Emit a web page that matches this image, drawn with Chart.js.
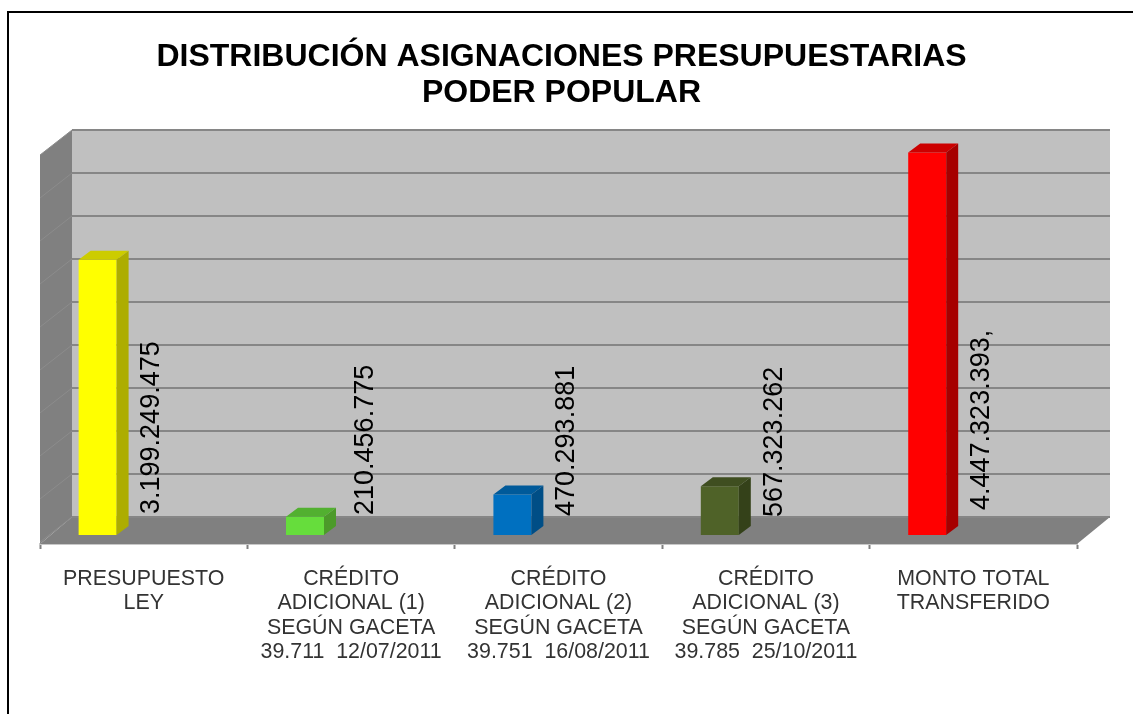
<!DOCTYPE html>
<html>
<head>
<meta charset="utf-8">
<script src="https://cdn.jsdelivr.net/npm/chart.js@4"></script>
<style>
html, body { margin: 0; padding: 0; background: #fff; overflow: hidden; }
#frame { position: absolute; left: 7px; top: 11px; right: 0; bottom: 0; border-left: 2px solid #000; border-top: 2px solid #000; }
#c { position: absolute; left: 0; top: 0; }
</style>
</head>
<body>
<div id="frame"></div>
<canvas id="c" width="1133" height="714"></canvas>
<script>
var titleLines = ['DISTRIBUCIÓN ASIGNACIONES PRESUPUESTARIAS', 'PODER POPULAR'];
var categories = [
	['PRESUPUESTO', 'LEY'],
	['CRÉDITO', 'ADICIONAL (1)', 'SEGÚN GACETA', '39.711  12/07/2011'],
	['CRÉDITO', 'ADICIONAL (2)', 'SEGÚN GACETA', '39.751  16/08/2011'],
	['CRÉDITO', 'ADICIONAL (3)', 'SEGÚN GACETA', '39.785  25/10/2011'],
	['MONTO TOTAL', 'TRANSFERIDO']
];
var values = [3199249475, 210456775, 470293881, 567323262, 4447323393];
var valueLabels = ['3.199.249.475', '210.456.775', '470.293.881', '567.323.262', '4.447.323.393,'];
var gridValues = [0, 500000000, 1000000000, 1500000000, 2000000000, 2500000000, 3000000000, 3500000000, 4000000000, 4500000000];

var frontColors = ['#ffff00', '#66dd3c', '#0070c0', '#4f6228', '#ff0000'];
var topColors = ['#cccc00', '#52b030', '#005a9a', '#3f4e20', '#cc0000'];
var sideColors = ['#adad00', '#4c9a2a', '#004e86', '#344119', '#a60000'];

// depth of the fake 3d box
var WALL_DX = 32, WALL_DY = 18, WALL_SLOPE = 25;
var BAR_DX = 12, BAR_DY = 9;
// the value labels do not sit quite evenly in the original
var labelNudgeX = [0, 7, 0, 1, 0];
var labelNudgeY = [-1, 0, 1, 2, -5];

function poly(ctx, pts, fill){
	ctx.beginPath();
	ctx.moveTo(pts[0][0], pts[0][1]);
	for(var i = 1; i < pts.length; i++) ctx.lineTo(pts[i][0], pts[i][1]);
	ctx.closePath();
	ctx.fillStyle = fill;
	ctx.fill();
}

var box3d = {
	id: 'box3d',
	beforeDatasetsDraw: function(chart){
		var ctx = chart.ctx, a = chart.chartArea, y = chart.scales.y;
		var backL = a.left + WALL_DX, backR = a.right + 33;
		var backTop = y.getPixelForValue(gridValues[gridValues.length - 1]) - WALL_DY;
		var backBottom = y.getPixelForValue(0) - WALL_DY;
		ctx.save();
		poly(ctx, [[backL, backTop], [backR, backTop], [backR, backBottom], [backL, backBottom]], '#c0c0c0');
		poly(ctx, [[a.left, backTop + WALL_SLOPE], [backL, backTop], [backL, backBottom], [a.left, a.bottom]], '#808080');
		poly(ctx, [[backL, backBottom], [backR, backBottom], [a.right, a.bottom], [a.left, a.bottom]], '#808080');
		for(var i = 0; i < gridValues.length; i++){
			var py = y.getPixelForValue(gridValues[i]) - WALL_DY;
			ctx.strokeStyle = '#868686';
			ctx.lineWidth = 2;
			ctx.beginPath();
			ctx.moveTo(backL, py);
			ctx.lineTo(backR, py);
			ctx.stroke();
			ctx.strokeStyle = '#8c8c8c';
			ctx.lineWidth = 1;
			ctx.beginPath();
			ctx.moveTo(a.left, py + WALL_SLOPE);
			ctx.lineTo(backL, py);
			ctx.stroke();
		}
		ctx.restore();
	},
	afterDatasetsDraw: function(chart){
		var ctx = chart.ctx;
		var bars = chart.getDatasetMeta(0).data;
		ctx.save();
		for(var i = 0; i < bars.length; i++){
			var b = bars[i];
			var l = b.x - b.width / 2, r = b.x + b.width / 2;
			poly(ctx, [[l, b.y], [l + BAR_DX, b.y - BAR_DY], [r + BAR_DX, b.y - BAR_DY], [r, b.y]], topColors[i]);
			poly(ctx, [[r, b.y], [r + BAR_DX, b.y - BAR_DY], [r + BAR_DX, b.base - BAR_DY], [r, b.base]], sideColors[i]);
			ctx.save();
			ctx.translate(b.x + 54 + labelNudgeX[i], b.base - 20 + labelNudgeY[i]);
			ctx.rotate(-Math.PI / 2);
			ctx.font = '27px "Liberation Sans"';
			ctx.fillStyle = '#000';
			ctx.textAlign = 'left';
			ctx.textBaseline = 'middle';
			ctx.fillText(valueLabels[i], 0, 0);
			ctx.restore();
		}
		ctx.restore();
	}
};

new Chart(document.getElementById('c').getContext('2d'), {
	type: 'bar',
	data: {
		labels: categories,
		datasets: [
			{ data: values, backgroundColor: frontColors, borderWidth: 0 },
			{ data: [] }
		]
	},
	options: {
		responsive: false,
		animation: false,
		categoryPercentage: 0.889,
		barPercentage: 0.412,
		layout: { padding: { left: 40, right: 50, top: 0, bottom: 0 } },
		plugins: {
			legend: { display: false },
			tooltip: { enabled: false },
			title: {
				display: true,
				text: titleLines,
				color: '#000',
				font: { family: '"Liberation Sans"', size: 32, weight: 'bold', lineHeight: 36 / 32 },
				padding: { top: 39, bottom: 37 }
			}
		},
		scales: {
			y: {
				position: 'right',
				min: -105000000,
				max: 4500000000,
				afterFit: function(scale){ scale.width = 6; },
				ticks: { display: false },
				grid: { display: false },
				border: { display: false }
			},
			x: {
				afterFit: function(scale){ scale.height = 170; },
				grid: { drawOnChartArea: false, color: '#808080', tickLength: 5, tickWidth: 2 },
				border: { color: '#c8c8c8', width: 2 },
				ticks: {
					color: '#333',
					maxRotation: 0,
					autoSkip: false,
					padding: 18,
					font: { family: '"Liberation Sans"', size: 21.4, lineHeight: 1.14 }
				}
			}
		}
	},
	plugins: [box3d]
});
</script>
</body>
</html>
